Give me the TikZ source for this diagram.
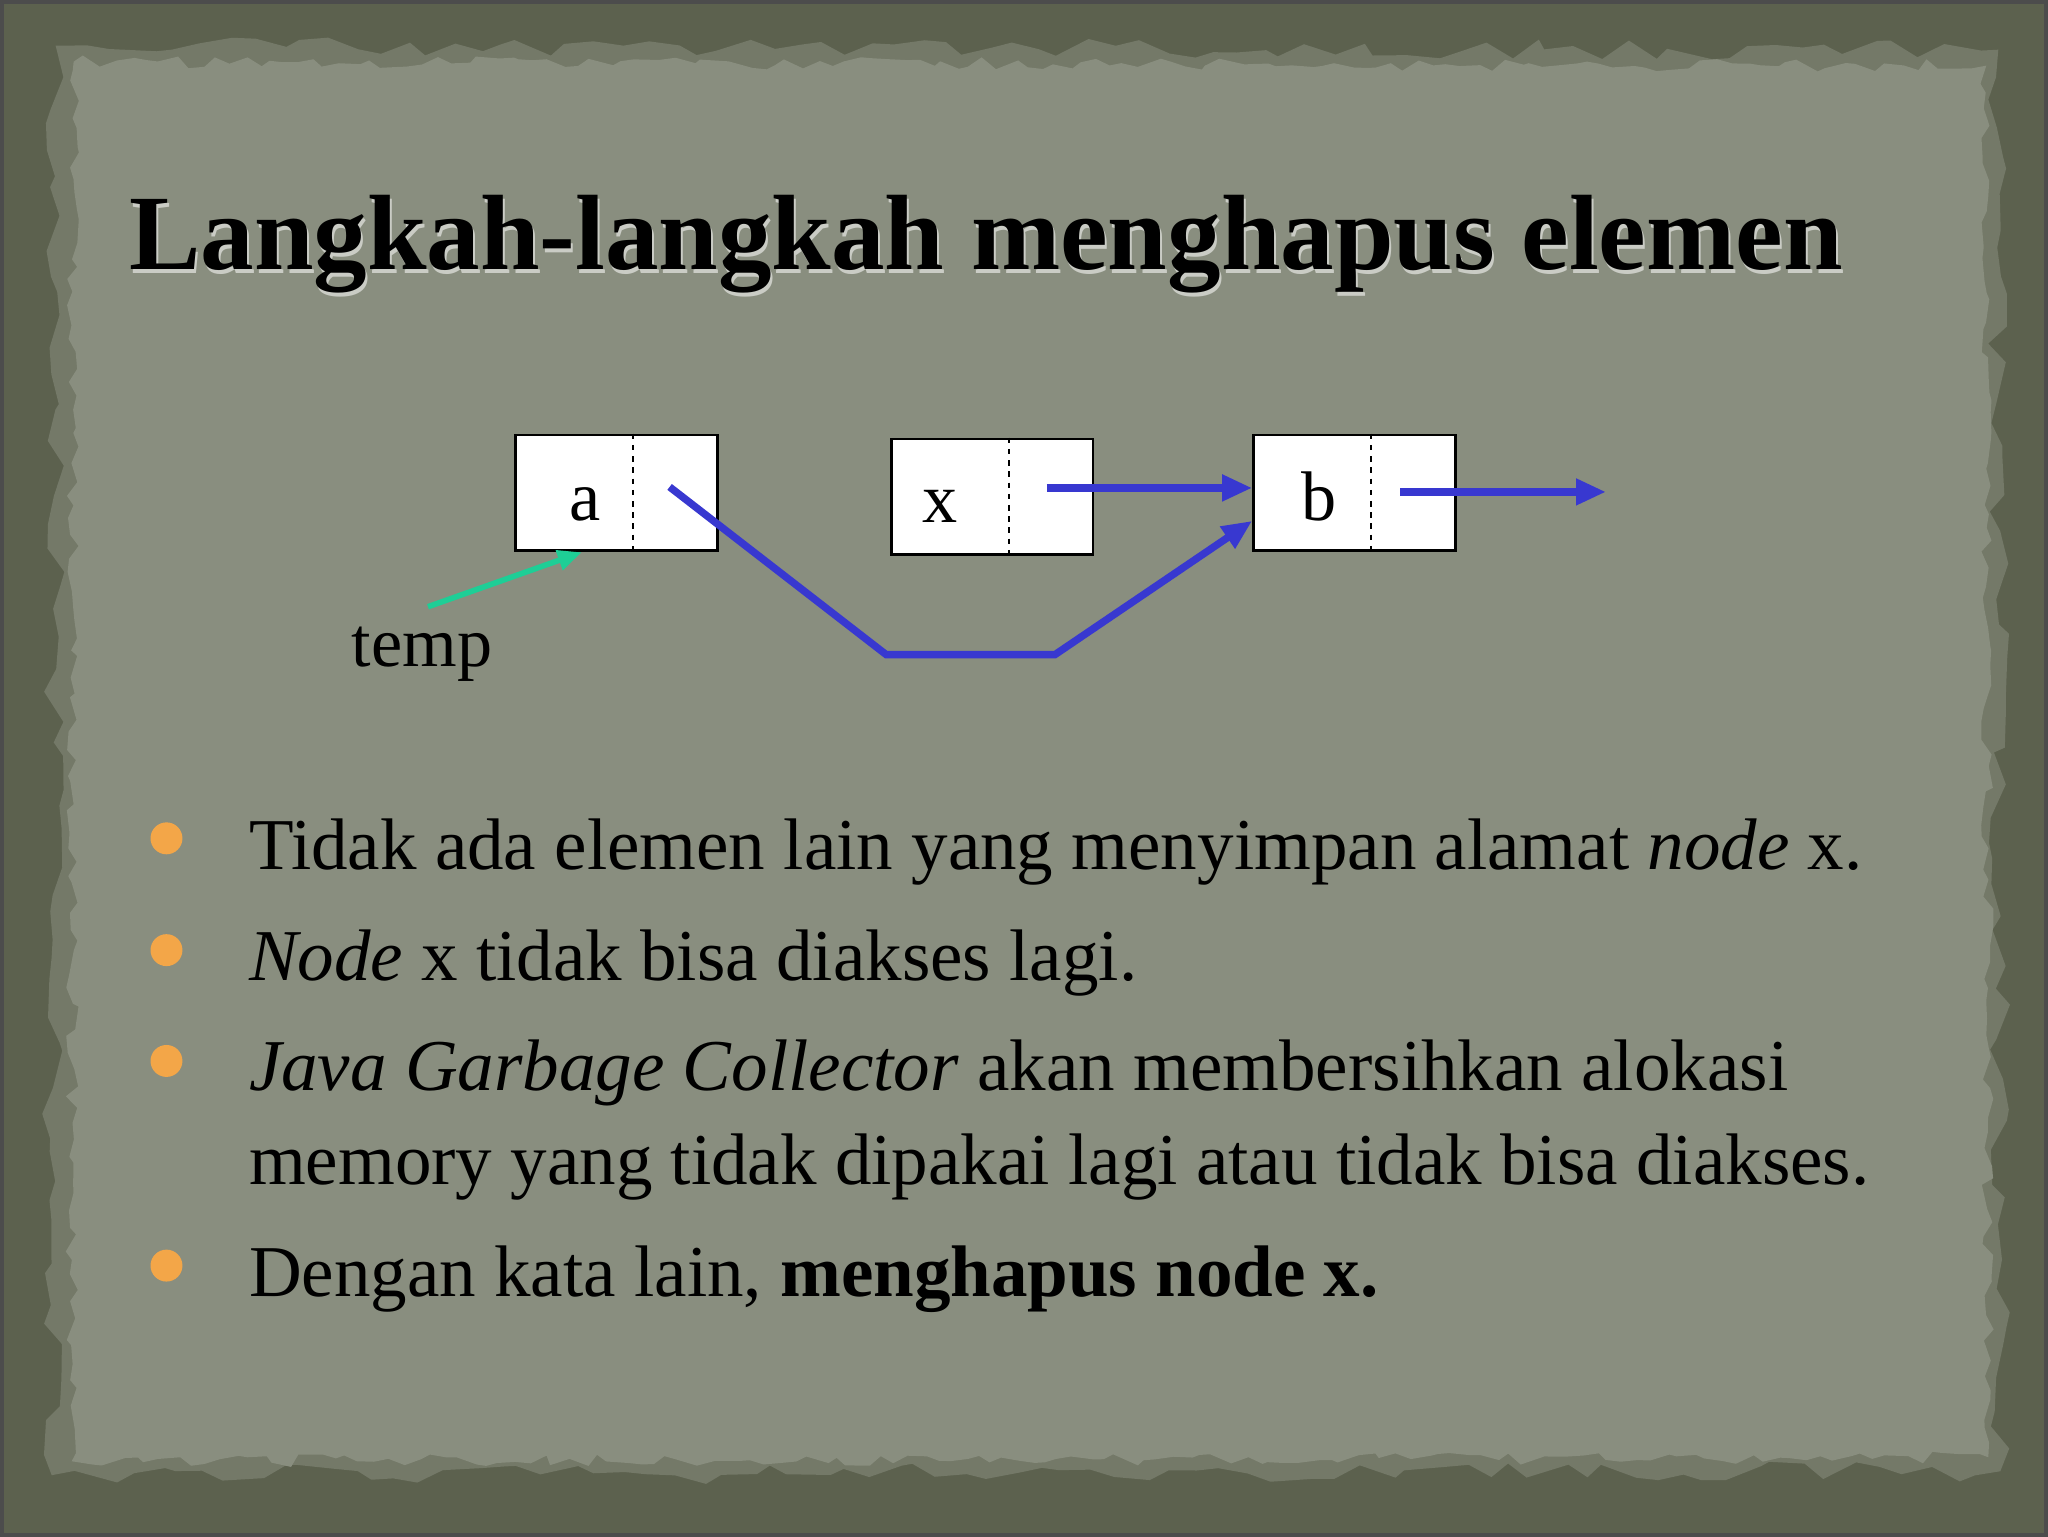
\documentclass[tikz,border=0pt]{standalone}
\usepackage{fontspec}
\setmainfont{Liberation Serif}
\usetikzlibrary{positioning,calc,arrows.meta,decorations.pathmorphing}
\definecolor{slateborder}{RGB}{92,97,78}
\definecolor{paperedge}{RGB}{116,121,104}
\definecolor{papergray}{RGB}{137,142,127}
\definecolor{linkblue}{RGB}{56,56,208}
\definecolor{tempteal}{RGB}{30,206,150}
\definecolor{bulletorange}{RGB}{243,166,72}

\begin{document}
\begin{tikzpicture}[x=0.01cm,y=-0.01cm,
  cell/.style={draw=black, fill=white, line width=0.8pt, minimum width=2.02cm, minimum height=1.16cm, inner sep=0pt},
  link/.style={linkblue, line width=2.1pt, -{Triangle[length=0.3cm,width=0.25cm]}},
  celltext/.style={font=\fontsize{20}{24}\selectfont, anchor=base, inner sep=0pt},
  itemtext/.style={font=\fontsize{20.8}{25}\selectfont, anchor=base west, inner sep=0pt}]
\pgfmathsetseed{11}
% Background
\fill[slateborder] (0,0) rectangle (2048,1536);
\fill[paperedge, decorate, decoration={random steps, segment length=7pt, amplitude=3pt}]
  (54,44) -- (2000,48) -- (2002,1472) -- (50,1476) -- cycle;
\fill[papergray, decorate, decoration={random steps, segment length=4pt, amplitude=1.8pt}]
  (72,60) -- (1988,64) -- (1990,1458) -- (70,1462) -- cycle;
\draw[black!70, line width=1pt] (0,0) rectangle (2048,1536);

% Title
\node[anchor=base west, inner sep=0pt, text=white!55!papergray, font=\fontsize{30.5}{36}\selectfont\bfseries]
  at (129,272) {Langkah-langkah menghapus elemen};
\node[anchor=base west, inner sep=0pt, font=\fontsize{30.5}{36}\selectfont\bfseries]
  (title) at (127,268) {Langkah-langkah menghapus elemen};

% Nodes of the list
\node[cell] (nodeA) at (616,492) {};
\node[cell, right=1.71cm of nodeA, yshift=-0.04cm] (nodeX) {};
\node[cell, right=1.58cm of nodeX, yshift=0.04cm] (nodeB) {};
\foreach \n in {nodeA,nodeX,nodeB} {
    \draw[dash pattern=on 1.6pt off 1.6pt, line width=0.6pt]
      ($(\n.north west)+(119,0)$) -- ($(\n.south west)+(119,0)$);
}
\node[celltext] (valA) at (584,520) {a};
\node[celltext] (valX) at (940,522) {x};
\node[celltext] (valB) at (1320,520) {b};

% Pointers
\coordinate (ptrA) at (669,486);
\coordinate (bendL) at (886,654);
\coordinate (bendR) at (1055,654);
\coordinate (ptrX) at (1047,487);
\coordinate (ptrB) at (1401,491);
\coordinate (nextB) at (1607,491);
\draw[link] (ptrX) -- (nodeB.west |- ptrX);
\draw[link, line join=miter] (ptrA) -- (bendL) -- (bendR) -- ([yshift=-0.28cm]nodeB.west);
\draw[link] (ptrB) -- (nextB);

% temp
\node[anchor=base west, inner sep=0pt, font=\fontsize{20}{24}\selectfont] (tempLbl) at (350,666) {temp};
\coordinate (tempTail) at (427,606);
\draw[tempteal, line width=1.6pt, -{Triangle[length=0.24cm,width=0.2cm]}]
  (tempTail) -- ([xshift=-0.35cm]nodeA.south);

% Bullets
\foreach \y in {838,950,1061,1266} {
    \fill[bulletorange] (165,\y) circle (16);
}
\node[itemtext] (item1) at (247,869) {Tidak ada elemen lain yang menyimpan alamat \textit{node} x.};
\node[itemtext] (item2) at (247,980) {\textit{Node} x tidak bisa diakses lagi.};
\node[itemtext] (item3) at (247,1091) {\textit{Java Garbage Collector} akan membersihkan alokasi};
\node[itemtext] (item3b) at (247,1185) {memory yang tidak dipakai lagi atau tidak bisa diakses.};
\node[itemtext] (item4) at (247,1297) {Dengan kata lain, \textbf{menghapus node x.}};
\end{tikzpicture}
\end{document}
